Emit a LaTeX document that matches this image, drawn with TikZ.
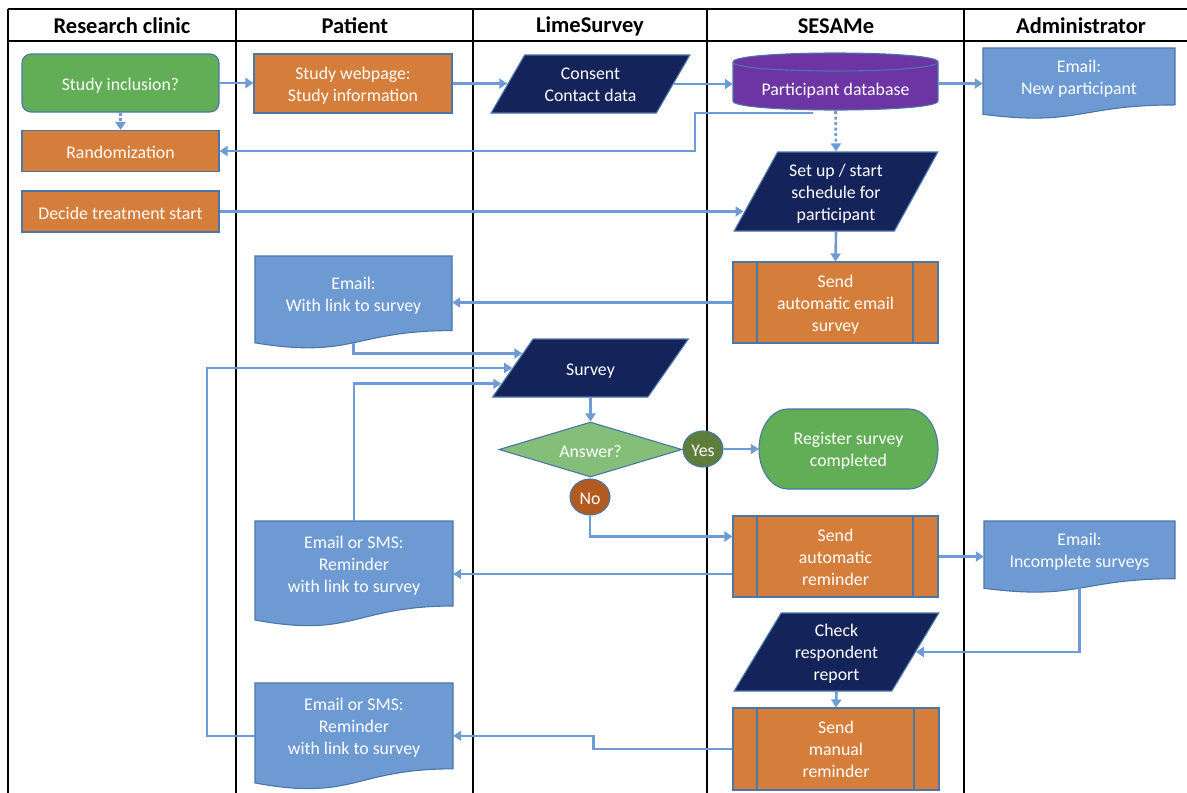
\documentclass[tikz,border=0pt]{standalone}
\usepackage{fontspec}
\setmainfont{Carlito}
\usetikzlibrary{shapes.geometric,shapes.misc,arrows.meta,calc}
\definecolor{cgreen}{HTML}{62AE56}
\definecolor{corange}{HTML}{D57D3A}
\definecolor{cnavy}{HTML}{14245B}
\definecolor{cpurple}{HTML}{6D34A3}
\definecolor{cdoc}{HTML}{6E9AD3}
\definecolor{cconn}{HTML}{6E9AD6}
\definecolor{cbord}{HTML}{4A76A8}
\definecolor{cans}{HTML}{84BE78}
\definecolor{cyes}{HTML}{5F7D3A}
\definecolor{cno}{HTML}{B25A20}
\newcommand\T{\rule{0pt}{18.5pt}}
\newcommand\docshape[6]{%
  \filldraw[bord, fill=cdoc] (#2,#3) -- (#2+#4,#3) -- (#2+#4,#3+0.802*#5)
    .. controls (#2+0.5*#4,#3+0.802*#5) and (#2+0.5*#4,#3+1.1075*#5) .. (#2,#3+0.934*#5) -- cycle;
  \node[tx, minimum width=#4, minimum height=0.8*#5] (#1) at (#2+0.5*#4,#3+0.4*#5) {\T#6};
  \coordinate (#1-b) at (#2+0.5*#4,#3+0.933*#5);
}
\begin{document}
\begin{tikzpicture}[x=1pt,y=-1pt,
  every node/.style={text=white, font=\fontsize{17.8}{22}\selectfont, align=center, inner sep=0pt},
  tx/.style={execute at begin node={\rule{0pt}{20pt}}, execute at end node={\rule[-4.8pt]{0pt}{4.8pt}}},
  bord/.style={draw=cbord, line width=1.1pt},
  box/.style={tx, rectangle, bord, minimum width=197, minimum height=41},
  para/.style={tx, trapezium, trapezium stretches=true, fill=cnavy, bord},
  predef/.style={tx, rectangle, bord, fill=corange, minimum width=205, minimum height=81,
    path picture={\draw[cbord, line width=1.1pt]
      ([xshift=24pt]path picture bounding box.north west) -- ([xshift=24pt]path picture bounding box.south west)
      ([xshift=-25pt]path picture bounding box.north east) -- ([xshift=-25pt]path picture bounding box.south east);}},
  conn/.style={draw=cconn, line width=2.6pt, -{Triangle[length=8pt,width=10pt]}},
  dotconn/.style={conn, dash pattern=on 3pt off 2.5pt},
  lane/.style={line width=1.3pt, black},
  hdr/.style={text=black, font=\fontsize{22.5}{26}\selectfont\bfseries}
]
\useasboundingbox (0,0) rectangle (1187,793);
% lanes
\draw[lane] (8,9) -- (1187,9);
\draw[lane] (8,41) -- (1187,41);
\foreach \x in {8,236,473,707,964} \draw[lane] (\x,9) -- (\x,793);
\node[hdr] (h1) at (122,26) {Research clinic};
\node[hdr] (h2) at (355,26) {Patient};
\node[hdr] (h3) at (590,26) {LimeSurvey};
\node[hdr] (h4) at (836,26) {SESAMe};
\node[hdr] (h5) at (1081,26) {Administrator};

% Research clinic
\node[box, fill=cgreen, rounded corners=9pt, minimum height=58] (inc) at (120.5,83) {Study inclusion?};
\node[box, fill=corange] (rand) at (120.5,151) {Randomization};
\node[box, fill=corange] (dec) at (120.5,211.5) {Decide treatment start};

% Patient
\node[box, fill=corange, minimum width=198, minimum height=59] (web) at (353,83.5) {\T Study webpage:\\Study information};
\docshape{link}{255}{256}{197}{93}{Email:\\With link to survey}
\docshape{rem1}{255}{521}{198}{106}{Email or SMS:\\Reminder\\with link to survey}
\docshape{rem2}{255}{683}{198}{107}{Email or SMS:\\Reminder\\with link to survey}

% LimeSurvey
\node[para, trapezium left angle=62.7, trapezium right angle=117.3, minimum width=199, minimum height=58] (consent) at (590.5,84) {\T Consent\\Contact data};
\node[para, trapezium left angle=55.4, trapezium right angle=124.6, minimum width=197, minimum height=58] (survey) at (590.5,368) {Survey};
\node[tx, diamond, aspect=3.3, fill=cans, bord, minimum width=183, minimum height=55] (ans) at (590.5,449.5) {Answer?};
\node[tx, ellipse, fill=cyes, bord, minimum width=40, minimum height=36] (yes) at (703,449) {Yes};
\node[tx, ellipse, fill=cno, bord, minimum width=40, minimum height=36] (no) at (590,497) {No};

% SESAMe
\filldraw[bord, fill=cpurple] (733,62) -- (733,101) .. controls (733,113) and (938,113) .. (938,101) -- (938,62) .. controls (938,50) and (733,50) .. cycle;
\draw[bord] (733,62) .. controls (733,74) and (938,74) .. (938,62);
\node[minimum width=205, minimum height=55] (db) at (835.5,83.5) {};
\node[tx] (dbt) at (835.5,88) {Participant database};
\node[para, trapezium left angle=62.6, trapezium right angle=117.4, minimum width=204, minimum height=79] (setup) at (836,191.5) {\T Set up / start\\schedule for\\participant};
\node[predef] (sendA) at (835.5,302.5) {\T Send\\automatic email\\survey};
\filldraw[bord, fill=cgreen] (788,409) -- (909,409) .. controls (925,409) and (938,426.9) .. (938,449)
  .. controls (938,471.1) and (925,489) .. (909,489) -- (788,489) .. controls (772,489) and (759,471.1) .. (759,449)
  .. controls (759,426.9) and (772,409) .. cycle;
\node[tx, minimum width=179, minimum height=80] (reg) at (848.5,449) {\T Register survey\\completed};
\node[predef] (sendR) at (835.5,556.5) {\T Send\\automatic\\reminder};
\node[para, trapezium left angle=62.3, trapezium right angle=117.7, minimum width=205, minimum height=78] (check) at (836.5,652) {\T Check\\respondent\\report};
\node[predef, minimum width=206, minimum height=82] (sendM) at (836,749) {\T Send\\manual\\reminder};

% Administrator
\docshape{newp}{983}{48}{192}{71}{Email:\\New participant}
\docshape{incs}{984}{521}{191}{72}{Email:\\Incomplete surveys}

% connectors
\coordinate (dbb) at (813,113);
\coordinate (t1) at (695,113);
\draw[conn] (inc.east) -- (inc.east -| web.west);
\draw[conn] (web.east) -- (web.east -| consent.west);
\draw[conn] (consent.east) -- (consent.east -| db.west);
\draw[conn] (db.east) -- (db.east -| newp.west);
\draw[dotconn] (inc.south) -- (rand.north);
\draw[conn] (dbb) -- (t1) |- (rand.east);
\draw[dotconn] (db.south) -- (setup.north);
\draw[conn] (dec.east) -- (dec.east -| setup.193);
\draw[conn] (setup.south) -- (sendA.north);
\draw[conn] (sendA.west) -- (sendA.west -| link.east);
\draw[conn] (link-b) |- (survey.168);
\draw[conn] ([yshift=-10pt]rem2.west) -- ++(-48,0) |- (survey.west);
\draw[conn] (rem1.north) |- (survey.190);
\draw[conn] (survey.south) -- (ans.north);
\draw[conn] (yes.east) -- (reg.west);
\draw[conn] (no.south) |- ([yshift=20pt]sendR.west);
\draw[conn] ([yshift=-17.5pt]sendR.west) -- ([yshift=-17.5pt]sendR.west -| rem1.east);
\draw[conn] (sendR.east) -- (sendR.east -| incs.west);
\draw[conn] (incs-b) |- (check.east);
\draw[conn] (check.south) -- (sendM.north);
\draw[conn] (sendM.west) -- ++(-139,0) |- ([yshift=-10pt]rem2.east);
\end{tikzpicture}
\end{document}
